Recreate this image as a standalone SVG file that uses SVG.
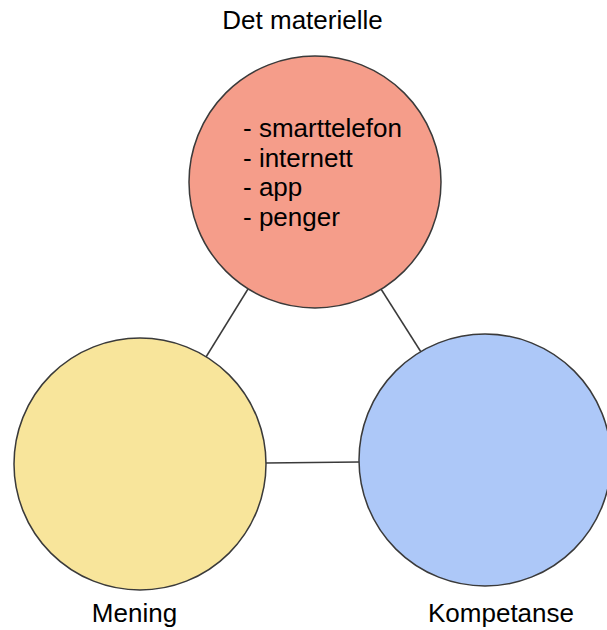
<svg xmlns="http://www.w3.org/2000/svg" width="607" height="630" viewBox="0 0 607 630">
<style>
.c{stroke:#3a3a3a;stroke-width:1.5}
.l{stroke:#3a3a3a;stroke-width:1.5;fill:none}
text{font-family:"Liberation Sans",Arial,sans-serif;font-size:26px;fill:#000}
</style>
<rect width="607" height="630" fill="#fff"/>
<g id="connectors">
<line class="l" x1="248" y1="289" x2="206" y2="357"/>
<line class="l" x1="381" y1="289" x2="421" y2="352"/>
<line class="l" x1="266" y1="463" x2="359" y2="462"/>
</g>
<g id="materielle">
<circle class="c" cx="315" cy="182" r="126" fill="#f59d8a"/>
<text x="302.5" y="29" text-anchor="middle">Det materielle</text>
<text x="243" y="137">- smarttelefon</text>
<text x="243" y="166.5">- internett</text>
<text x="243" y="196">- app</text>
<text x="243" y="225.5">- penger</text>
</g>
<g id="mening">
<circle class="c" cx="140" cy="464" r="126" fill="#f8e59b"/>
<text x="134.5" y="622" text-anchor="middle">Mening</text>
</g>
<g id="kompetanse">
<circle class="c" cx="485" cy="460" r="126" fill="#adc8f8"/>
<text x="501" y="622" text-anchor="middle">Kompetanse</text>
</g>
</svg>
